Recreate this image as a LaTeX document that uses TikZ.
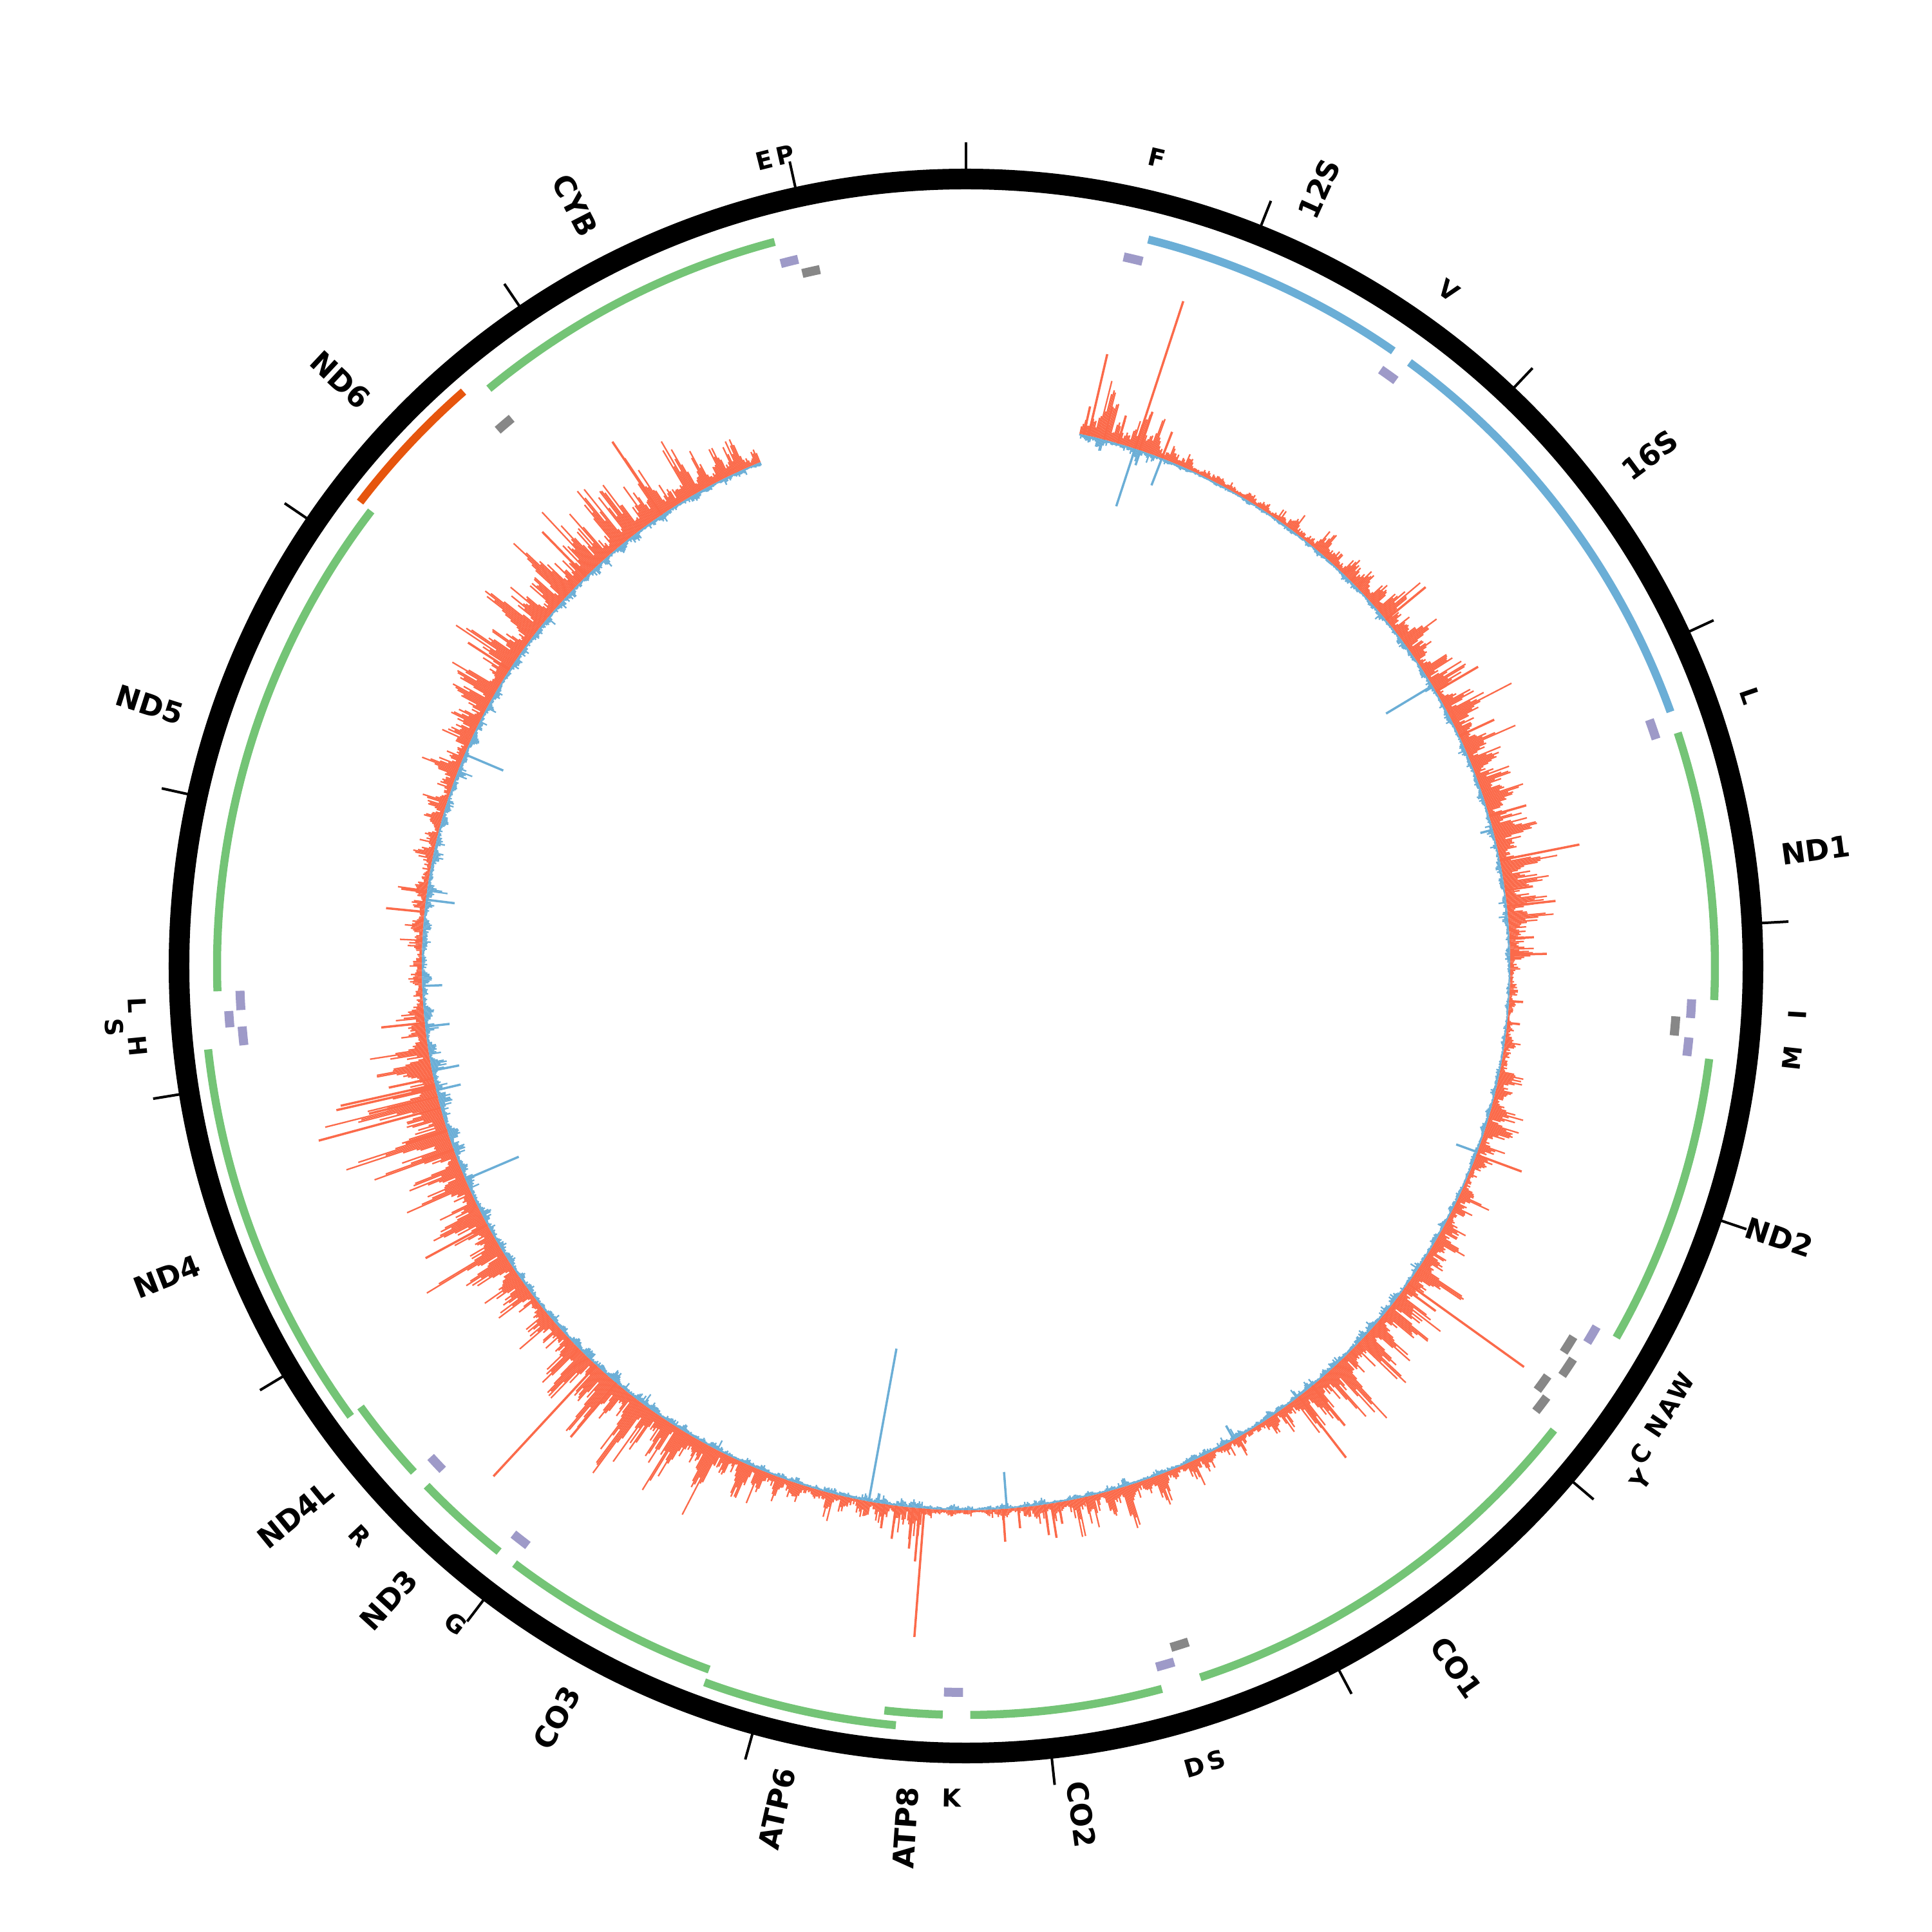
\documentclass[tikz,border=0pt]{standalone}
\usepackage{fontspec}
\setmainfont{DejaVu Sans}
\definecolor{gGreen}{HTML}{74C476}
\definecolor{gBlue}{HTML}{6BAED6}
\definecolor{gPurple}{HTML}{9E9AC8}
\definecolor{gGray}{HTML}{878787}
\definecolor{gOrange}{HTML}{E6550D}
\definecolor{covRed}{HTML}{FB6A4A}
\definecolor{covBlue}{HTML}{6BAED6}
\newcommand\bpang[2]{\pgfmathsetmacro#1{90-#2*0.0217273}}
\newcommand\mtfeat[4]{%
  \bpang\angA{#3}\bpang\angB{#4}%
  \draw[#1] (\angA:#2) arc[start angle=\angA, end angle=\angB, radius=#2];}
\newcommand\genelab[3]{%
  \pgfmathsetmacro\thl{#3*0.0217273}%
  \pgfmathsetmacro\al{90-\thl}%
  \ifdim\thl pt<180pt
    \node[glab, anchor=west, rotate=\al] (#2) at (\al:12.77) {#1};%
  \else
    \pgfmathsetmacro\rl{\al+180}%
    \node[glab, anchor=east, rotate=\rl] (#2) at (\al:12.77) {#1};%
  \fi}
\newcommand\trnalab[4]{%
  \pgfmathsetmacro\thl{#3*0.0217273}%
  \pgfmathsetmacro\al{90-\thl}%
  \pgfmathsetmacro\rl{-\thl}%
  \ifdim\thl pt>90pt \ifdim\thl pt<270pt \pgfmathsetmacro\rl{180-\thl}\fi\fi
  \node[tlab, rotate=\rl] (#2) at (\al:#4) {#1};}
\begin{document}
\begin{tikzpicture}[
  feat/.style={line width=0.125cm},
  trna/.style={line width=0.14cm},
  glab/.style={inner sep=0pt, font=\fontsize{12.9}{14}\selectfont\bfseries},
  tlab/.style={inner sep=0pt, font=\fontsize{10.9}{12}\selectfont\bfseries},
  covr/.style={covRed, line width=0.023cm},
  covb/.style={covBlue, line width=0.023cm},
  spk/.style={line width=0.035cm}
]
\useasboundingbox (-15,-15) rectangle (15,15);
% ---------- coverage track ----------
\pgfmathsetseed{7}
\foreach \cA/\cR/\cB [remember=\cA as \pA (initially 12.1), remember=\cR as \pR (initially 80), remember=\cB as \pB (initially 25)] in
 {14/110/25,17/110/30,20/70/25,22/30/12,25/20/8,32/20/8,38/30/10,44/60/12,50/80/15,56/70/15,62/90/15,68/90/15,74/100/18,80/110/18,86/90/18,90/20/10,96/15/8,100/30/10,104/70/12,108/80/15,112/35/10,117/50/12,122/90/15,127/110/18,133/120/20,139/130/20,143/80/18,148/25/20,153/35/20,158/55/15,163/80/15,168/60/12,173/40/15,178/12/12,182/12/10,186/70/25,190/40/25,195/40/15,200/60/15,206/90/18,212/140/22,218/170/25,224/140/25,228/70/20,233/80/20,238/130/25,243/120/25,248/120/30,253/180/40,258/160/40,262/90/35,266/40/30,270/30/25,276/35/30,282/35/25,288/45/25,294/70/25,300/100/20,306/120/20,312/140/22,318/140/22,324/140/20,330/100/18,334/80/15,337.9/60/15}
{
  \pgfmathtruncatemacro\nb{max(1,round((\cA-\pA)/0.15))}
  \pgfmathsetmacro\stp{(\cA-\pA)/\nb}
  \pgfmathtruncatemacro\nbm{\nb-1}
  \foreach \k in {0,...,\nbm} {
    \pgfmathsetmacro\tht{\pA+\k*\stp}
    \pgfmathsetmacro\fr{\k/\nb}
    \pgfmathsetmacro\xx{\tht-175}
    \pgfmathsetmacro\mm{0.2+0.9*abs(sin(97*\xx)*sin(41*\xx+20))}
    \pgfmathsetmacro\hr{0.02+\mm*(\pR+(\cR-\pR)*\fr)*(0.2+0.45*rnd+0.6*rnd^4)/100}
    \pgfmathsetmacro\hb{0.015+\mm*(\pB+(\cB-\pB)*\fr)*(0.15+0.35*rnd+0.5*rnd^8)/100}
    \pgfmathsetmacro\ang{90-\tht}
    \pgfmathsetmacro\ro{8.45+\hr}
    \pgfmathsetmacro\ri{8.45-\hb}
    \draw[covr] (\ang:8.45) -- (\ang:\ro);
    \draw[covb] (\ang:8.45) -- (\ang:\ri);
  }
}
\foreach \tht/\h in {13.0/130,18.1/241,18.6/63,14.7/53,21.1/44,16.2/45,12.5/45,50.5/80,59.7/76,65/60,74/60,78.8/126,82/44,83.7/76,87.1/38,88.8/57,93.7/22,96/20,110.3/75,125.7/222,126.3/60,142.3/120,140.5/80,167.3/27,170.2/34,171/54,171.7/48,174.5/32,176.1/51,184.4/200,184.9/83,185.6/64,187.4/52,188.6/38,222.8/235,220/110,241.6/109,250.3/51,252.4/68,254.9/196,256.1/110,257.1/158,257.4/150,258.1/71,264/68,275.7/60,277.8/40,303/77,315.7/97,326/137}
{
  \pgfmathsetmacro\ang{90-\tht}
  \pgfmathsetmacro\ro{8.45+\h/100}
  \draw[covRed, spk] (\ang:8.45) -- (\ang:\ro);
}
\foreach \tht/\h in {18.1/94,21.1/45,18.7/24,59/84,75.5/20,110/35,150.5/25,175.7/57,190.3/241,246.9/90,258.9/43,256.8/39,263.6/38,267.9/31,277/45,292.9/65}
{
  \pgfmathsetmacro\ang{90-\tht}
  \pgfmathsetmacro\ri{8.45-\h/100}
  \draw[covBlue, spk] (\ang:8.45) -- (\ang:\ri);
}
% ---------- outer ring and ticks ----------
\draw[line width=0.32cm] (0,0) circle[radius=12.22];
\foreach \k in {0,...,16} {
  \pgfmathsetmacro\ang{90-\k*21.7273}
  \draw[line width=0.04cm] (\ang:12.30) -- (\ang:12.79);
}
% ---------- genes ----------
\mtfeat{gBlue, feat}{11.63}{648}{1601}
\mtfeat{gBlue, feat}{11.63}{1671}{3229}
\mtfeat{gGreen, feat}{11.63}{3307}{4262}
\mtfeat{gGreen, feat}{11.63}{4470}{5511}
\mtfeat{gGreen, feat}{11.63}{5904}{7445}
\mtfeat{gGreen, feat}{11.63}{7586}{8269}
\mtfeat{gGreen, feat}{11.63}{8366}{8572}
\mtfeat{gGreen, feat}{11.84}{8527}{9207}
\mtfeat{gGreen, feat}{11.63}{9207}{9990}
\mtfeat{gGreen, feat}{11.63}{10059}{10404}
\mtfeat{gGreen, feat}{11.63}{10470}{10766}
\mtfeat{gGreen, feat}{11.84}{10760}{12137}
\mtfeat{gGreen, feat}{11.63}{12337}{14148}
\mtfeat{gOrange, feat}{11.85}{14149}{14673}
\mtfeat{gGreen, feat}{11.63}{14747}{15887}
% ---------- tRNAs ----------
\mtfeat{gPurple, trna}{11.28}{577}{647}
\mtfeat{gPurple, trna}{11.28}{1602}{1670}
\mtfeat{gPurple, trna}{11.28}{3230}{3304}
\mtfeat{gPurple, trna}{11.28}{4263}{4331}
\mtfeat{gPurple, trna}{11.28}{4402}{4469}
\mtfeat{gPurple, trna}{11.28}{5512}{5579}
\mtfeat{gPurple, trna}{11.28}{7518}{7585}
\mtfeat{gPurple, trna}{11.28}{8295}{8364}
\mtfeat{gPurple, trna}{11.28}{9991}{10058}
\mtfeat{gPurple, trna}{11.28}{10405}{10469}
\mtfeat{gPurple, trna}{11.28}{12138}{12206}
\mtfeat{gPurple, trna}{11.47}{12207}{12265}
\mtfeat{gPurple, trna}{11.28}{12266}{12336}
\mtfeat{gPurple, trna}{11.28}{15888}{15953}
\mtfeat{gGray, trna}{11.05}{4329}{4400}
\mtfeat{gGray, trna}{11.05}{5587}{5655}
\mtfeat{gGray, trna}{11.23}{5657}{5729}
\mtfeat{gGray, trna}{11.05}{5761}{5826}
\mtfeat{gGray, trna}{11.23}{5826}{5891}
\mtfeat{gGray, trna}{11.05}{7446}{7514}
\mtfeat{gGray, trna}{11.05}{14674}{14742}
\mtfeat{gGray, trna}{11.05}{15956}{16023}
% ---------- gene labels ----------
\genelab{12S}{l12S}{1124.5}
\genelab{16S}{l16S}{2450}
\genelab{ND1}{lND1}{3784.5}
\genelab{ND2}{lND2}{4990.5}
\genelab{CO1}{lCO1}{6674.5}
\genelab{CO2}{lCO2}{7927.5}
\genelab{ATP8}{lATP8}{8469}
\genelab{ATP6}{lATP6}{8867}
\genelab{CO3}{lCO3}{9598.5}
\genelab{ND3}{lND3}{10231.5}
\genelab{ND4L}{lND4L}{10618}
\genelab{ND4}{lND4}{11448.5}
\genelab{ND5}{lND5}{13242.5}
\genelab{ND6}{lND6}{14411}
\genelab{CYB}{lCYB}{15317}
% ---------- tRNA labels ----------
\trnalab{F}{tF}{612}{12.90}
\trnalab{V}{tV}{1636}{12.90}
\trnalab{L}{tL1}{3267}{12.88}
\trnalab{I}{tI}{4297}{12.93}
\trnalab{M}{tM}{4435.5}{12.91}
\trnalab{W}{tW}{5545.5}{12.88}
\trnalab{A}{tA}{5621}{12.88}
\trnalab{N}{tN}{5693}{12.88}
\trnalab{C}{tC}{5793.5}{12.93}
\trnalab{Y}{tY}{5858.5}{13.17}
\trnalab{S}{tS1}{7480}{12.93}
\trnalab{D}{tD}{7551.5}{12.93}
\trnalab{K}{tK}{8329.5}{12.92}
\trnalab{G}{tG}{10024.5}{12.93}
\trnalab{R}{tR}{10437}{12.92}
\trnalab{H}{tH}{12172}{12.92}
\trnalab{S}{tS2}{12236}{13.26}
\trnalab{L}{tL2}{12301}{12.88}
\trnalab{E}{tE}{15920.5}{12.90}
\trnalab{P}{tP}{15989.5}{12.90}
\end{tikzpicture}
\end{document}
